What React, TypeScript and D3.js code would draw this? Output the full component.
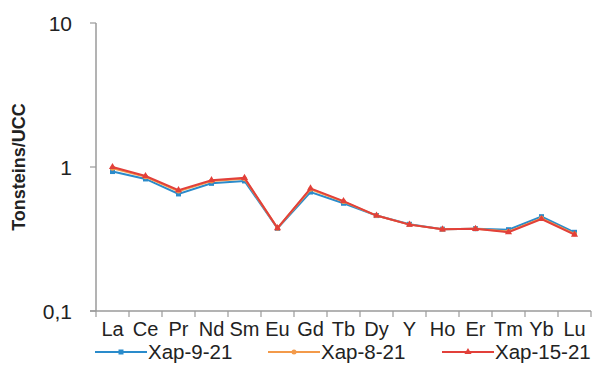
import React, { useEffect, useRef } from "react";
import * as d3 from "d3";

const elements = ["La", "Ce", "Pr", "Nd", "Sm", "Eu", "Gd", "Tb", "Dy", "Y", "Ho", "Er", "Tm", "Yb", "Lu"];
const xap9 = [0.93, 0.826, 0.65, 0.77, 0.8, 0.375, 0.67, 0.56, 0.46, 0.4, 0.37, 0.373, 0.367, 0.452, 0.352];
const xap8 = [0.98, 0.855, 0.68, 0.8, 0.83, 0.376, 0.7, 0.575, 0.46, 0.398, 0.369, 0.372, 0.356, 0.44, 0.343];
const xap15 = [1.0, 0.866, 0.69, 0.81, 0.84, 0.376, 0.71, 0.58, 0.46, 0.398, 0.369, 0.372, 0.352, 0.435, 0.339];
const yTicks = [0.1, 1, 10];
const yTickLabels = ["0,1", "1", "10"];

const series = [
  { name: "Xap-9-21", values: xap9, color: "#2a8bcb", marker: "square" },
  { name: "Xap-8-21", values: xap8, color: "#f39a4a", marker: "circle" },
  { name: "Xap-15-21", values: xap15, color: "#e2403a", marker: "triangle" },
];

const width = 598;
const height = 372;
const marginLeft = 96;
const plotRight = 591;
const plotTop = 23;
const plotBottom = 311;
const font = "'Liberation Sans', Arial, sans-serif";

export default function App() {
  const ref = useRef<SVGSVGElement>(null);

  useEffect(() => {
    if (!ref.current) return;
    const svg = d3.select(ref.current);
    svg.selectAll("*").remove();

    const x = d3.scaleBand().domain(elements).range([marginLeft, plotRight]);
    const y = d3.scaleLog().domain([0.1, 10]).range([plotBottom, plotTop]);
    const axisColor = "#9a9a9a";

    // y axis
    svg.append("line")
      .attr("x1", marginLeft).attr("x2", marginLeft)
      .attr("y1", plotTop).attr("y2", plotBottom)
      .attr("stroke", axisColor).attr("stroke-width", 1.5);
    const yt = svg.append("g");
    yTicks.forEach((t, i) => {
      yt.append("line")
        .attr("x1", marginLeft - 6).attr("x2", marginLeft)
        .attr("y1", y(t)).attr("y2", y(t))
        .attr("stroke", axisColor).attr("stroke-width", 1.2);
      yt.append("text")
        .attr("x", 72).attr("y", y(t) + 8)
        .attr("text-anchor", "end")
        .attr("font-size", 21)
        .attr("font-family", font)
        .attr("fill", "#222")
        .text(yTickLabels[i]);
    });

    svg.append("text")
      .attr("transform", `translate(25,${(plotTop + plotBottom) / 2}) rotate(-90)`)
      .attr("text-anchor", "middle")
      .attr("font-size", 18)
      .attr("font-weight", "bold")
      .attr("font-family", font)
      .attr("fill", "#222")
      .text("Tonsteins/UCC");

    // x axis
    svg.append("line")
      .attr("x1", marginLeft - 6).attr("x2", plotRight)
      .attr("y1", plotBottom).attr("y2", plotBottom)
      .attr("stroke", axisColor).attr("stroke-width", 1.5);
    const bounds = elements.map((e) => x(e)!).concat([plotRight]);
    svg.append("g").selectAll("line")
      .data(bounds)
      .join("line")
      .attr("x1", (d) => d).attr("x2", (d) => d)
      .attr("y1", plotBottom).attr("y2", plotBottom + 6)
      .attr("stroke", axisColor).attr("stroke-width", 1.2);
    svg.append("g").selectAll("text")
      .data(elements)
      .join("text")
      .attr("x", (d) => x(d)! + x.bandwidth() / 2)
      .attr("y", 336)
      .attr("text-anchor", "middle")
      .attr("font-size", 20)
      .attr("font-family", font)
      .attr("fill", "#222")
      .text((d) => d);

    const line = d3.line<number>()
      .x((_, i) => x(elements[i])! + x.bandwidth() / 2)
      .y((d) => y(d));

    const drawMarker = (g: any, kind: string, cx: number, cy: number, color: string) => {
      if (kind === "square") {
        g.append("rect").attr("x", cx - 2.5).attr("y", cy - 2.5).attr("width", 5).attr("height", 5).attr("fill", color);
      } else if (kind === "circle") {
        g.append("circle").attr("cx", cx).attr("cy", cy).attr("r", 2.5).attr("fill", color);
      } else {
        g.append("path")
          .attr("d", d3.symbol(d3.symbolTriangle, 22)())
          .attr("transform", `translate(${cx},${cy})`)
          .attr("fill", color);
      }
    };

    series.forEach((s) => {
      const g = svg.append("g");
      g.append("path")
        .attr("d", line(s.values))
        .attr("fill", "none")
        .attr("stroke", s.color)
        .attr("stroke-width", 2);
      s.values.forEach((v, i) => {
        drawMarker(g, s.marker, x(elements[i])! + x.bandwidth() / 2, y(v), s.color);
      });
    });

    // legend
    const legendX = [95, 268, 442];
    series.forEach((s, i) => {
      const g = svg.append("g");
      const lx = legendX[i];
      g.append("line")
        .attr("x1", lx).attr("x2", lx + 52)
        .attr("y1", 352).attr("y2", 352)
        .attr("stroke", s.color).attr("stroke-width", 2);
      drawMarker(g, s.marker, lx + 26, 352, s.color);
      g.append("text")
        .attr("x", lx + 53).attr("y", 359)
        .attr("font-size", 20.5)
        .attr("font-family", font)
        .attr("fill", "#222")
        .text(s.name);
    });
  }, []);

  return (
    <svg
      ref={ref}
      width={width}
      height={height}
      style={{ position: "absolute", left: 0, top: 0, background: "#fff" }}
    />
  );
}
